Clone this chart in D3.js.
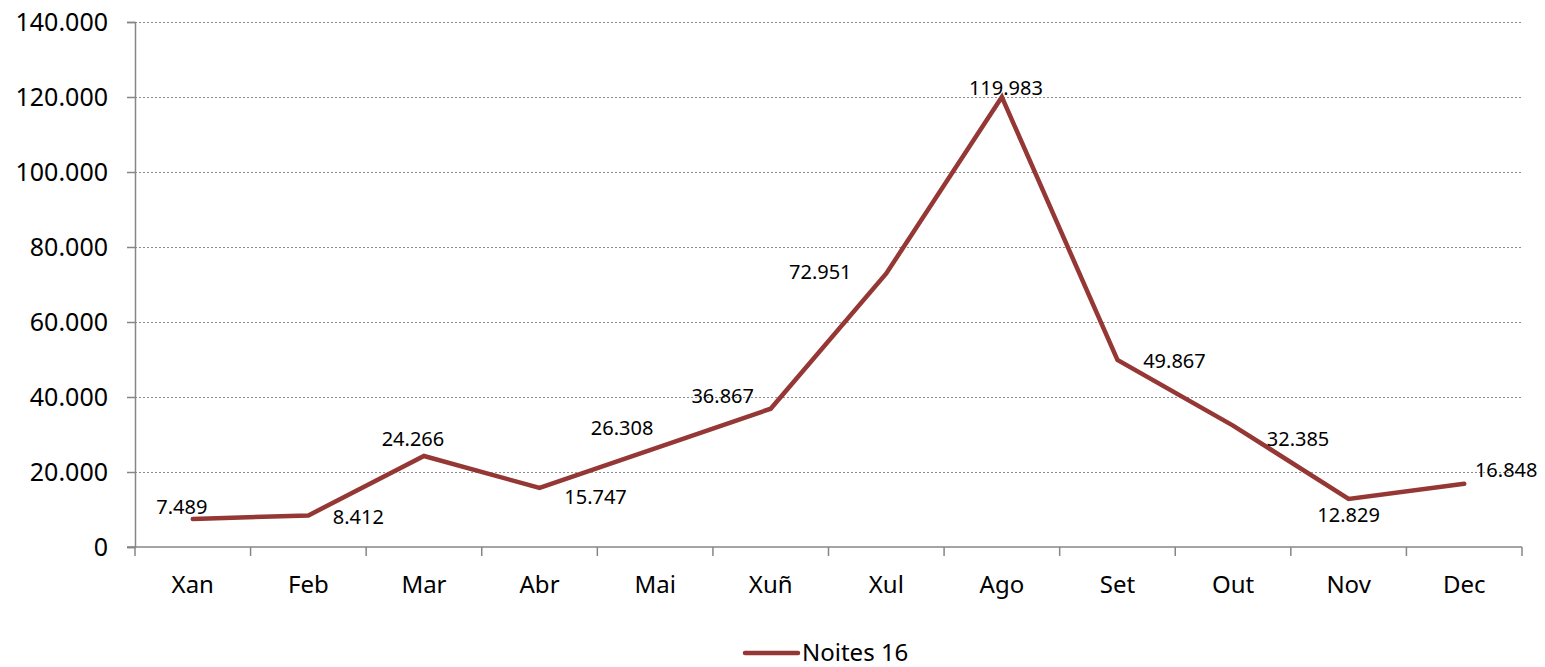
<!DOCTYPE html>
<html>
<head>
<meta charset="utf-8">
<script src="https://cdn.jsdelivr.net/npm/d3@7"></script>
<style>
  html, body { margin: 0; padding: 0; background: #fff; }
  svg text { font-family: "Noto Sans", "Open Sans", sans-serif; fill: #000; }
</style>
</head>
<body>
<div id="chart"></div>
<script>
"use strict";

/* ── Data ── */
const months   = ["Xan", "Feb", "Mar", "Abr", "Mai", "Xuñ", "Xul", "Ago", "Set", "Out", "Nov", "Dec"];
const noites16 = [7489, 8412, 24266, 15747, 26308, 36867, 72951, 119983, 49867, 32385, 12829, 16848];
const yTicks   = [0, 20000, 40000, 60000, 80000, 100000, 120000, 140000];
const seriesName = "Noites 16";

/* label offsets from each point (text centre), mimicking the Excel placement */
const labelOffset = [
  [-11, -12], [50, 2], [-11, -17], [56, 9], [-33, -20], [-48, -13],
  [-66, -1], [4, -9], [57, 1], [65, 13], [0, 16], [42, -14]
];

/* ── Dimensions ── */
const W = 1545, H = 667;
const margin = { top: 22, right: 23, bottom: 120, left: 135 };
const width  = W - margin.left - margin.right;
const height = H - margin.top - margin.bottom;
const lineColour = "#953735";
const axisColour = "#868686";

const svg = d3.select("#chart").append("svg")
  .attr("width", W).attr("height", H);

const g = svg.append("g").attr("transform", `translate(${margin.left},${margin.top})`);

/* ── Scales ── */
const x = d3.scaleBand().domain(months).range([0, width]);
const y = d3.scaleLinear().domain([0, 140000]).range([height, 0]);
const fmt = v => d3.format(",")(v).replace(/,/g, ".");

/* ── Gridlines ── */
g.append("g")
  .call(d3.axisLeft(y).tickValues(yTicks.filter(v => v > 0)).tickSize(-width).tickFormat(""))
  .call(a => {
    a.select(".domain").remove();
    a.selectAll("line").attr("stroke", "#8c8c8c").attr("stroke-dasharray", "2,2");
  });

/* ── Axes ── */
g.append("g")
  .call(d3.axisLeft(y).tickValues(yTicks).tickSize(8).tickPadding(19).tickFormat(v => v === 0 ? "0" : fmt(v)))
  .call(a => {
    a.select(".domain").attr("stroke", axisColour).attr("stroke-width", 1.5);
    a.selectAll(".tick line").attr("stroke", axisColour).attr("stroke-width", 1.5);
    a.selectAll(".tick text").attr("font-size", "25px").attr("fill", "#000");
  });

const xAxis = g.append("g").attr("transform", `translate(0,${height})`);
xAxis.append("line")
  .attr("x1", -8).attr("x2", width)
  .attr("stroke", axisColour).attr("stroke-width", 1.5);
xAxis.selectAll(".xtick")
  .data(d3.range(months.length + 1))
  .join("line")
  .attr("x1", i => i * x.bandwidth()).attr("x2", i => i * x.bandwidth())
  .attr("y1", 0).attr("y2", 9)
  .attr("stroke", axisColour).attr("stroke-width", 1.5);
xAxis.selectAll(".xlabel")
  .data(months)
  .join("text")
  .attr("x", d => x(d) + x.bandwidth() / 2)
  .attr("y", 46)
  .attr("text-anchor", "middle")
  .attr("font-size", "24px")
  .text(d => d);

/* ── Line ── */
const pts = months.map((m, i) => ({ m, v: noites16[i], i }));
const line = d3.line()
  .x(d => x(d.m) + x.bandwidth() / 2)
  .y(d => y(d.v));

g.append("path")
  .datum(pts)
  .attr("d", line)
  .attr("fill", "none")
  .attr("stroke", lineColour)
  .attr("stroke-width", 4.5)
  .attr("stroke-linejoin", "miter")
  .attr("stroke-linecap", "round");

/* ── Data labels ── */
g.selectAll(".dlabel")
  .data(pts)
  .join("text")
  .attr("x", d => x(d.m) + x.bandwidth() / 2 + labelOffset[d.i][0])
  .attr("y", d => y(d.v) + labelOffset[d.i][1])
  .attr("dy", "0.35em")
  .attr("text-anchor", "middle")
  .attr("font-size", "20px")
  .text(d => fmt(d.v));

/* ── Legend ── */
const legend = svg.append("g").attr("transform", "translate(745,653)");
legend.append("line")
  .attr("x1", 0).attr("x2", 53)
  .attr("stroke", lineColour).attr("stroke-width", 4.5).attr("stroke-linecap", "round");
legend.append("text")
  .attr("x", 57).attr("y", 0).attr("dy", "0.35em")
  .attr("font-size", "24px")
  .text(seriesName);
</script>
</body>
</html>
